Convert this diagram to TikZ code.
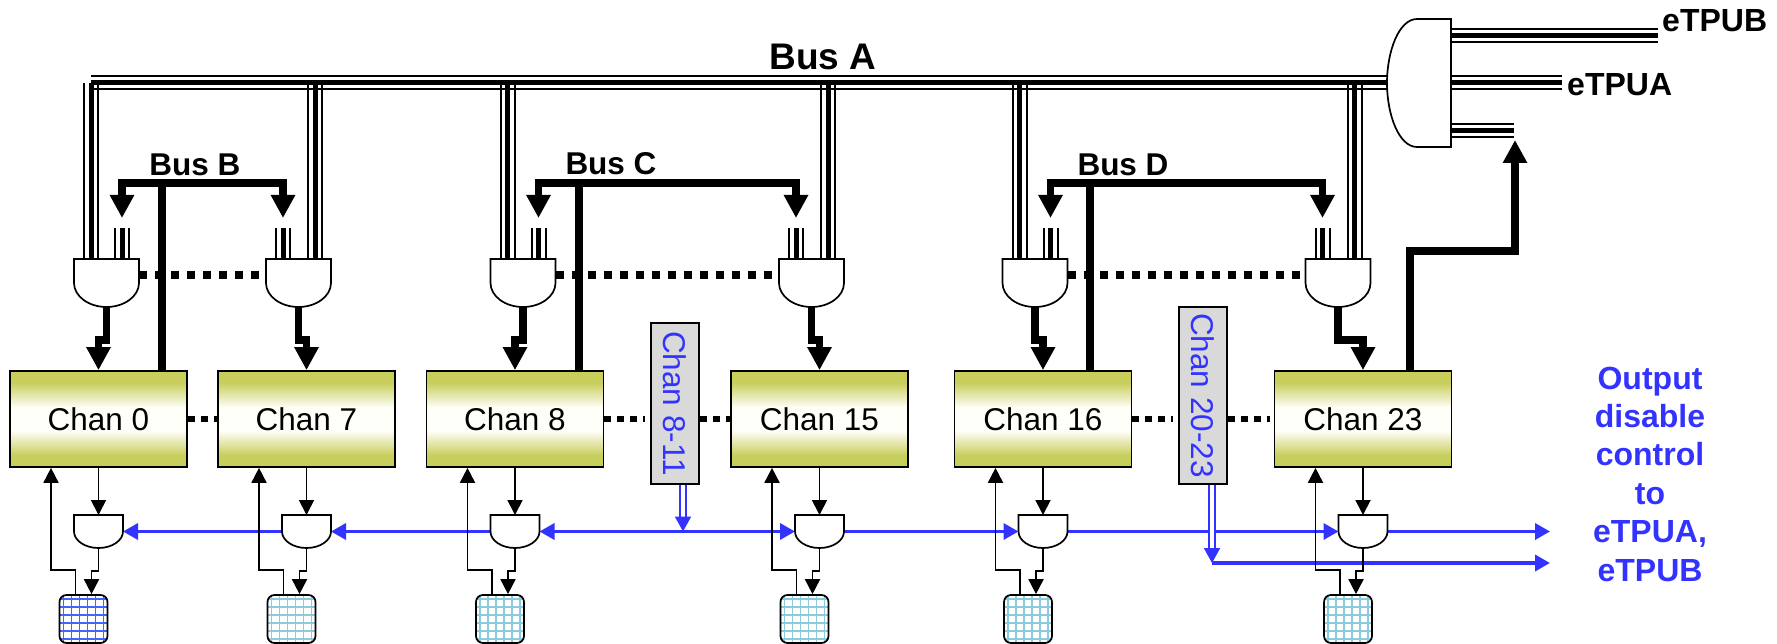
\documentclass[tikz,border=0pt]{standalone}
\usepackage{fontspec}
\setmainfont{Liberation Sans}
\usetikzlibrary{positioning,calc,arrows.meta}

\definecolor{ChanOlive}{HTML}{C8CE5C}
\definecolor{ChanPale}{HTML}{FFFFFA}
\definecolor{WireBlue}{HTML}{3333FF}
\definecolor{GridBlue}{HTML}{4068FF}
\definecolor{GridPale}{HTML}{8CCBDE}
\definecolor{SideGrey}{HTML}{D9D9D9}
\pgfdeclareverticalshading{chanshade}{100bp}{color(0bp)=(ChanOlive); color(31bp)=(ChanOlive); color(44bp)=(ChanPale); color(56bp)=(ChanPale); color(69bp)=(ChanOlive); color(100bp)=(ChanOlive)}

\newcommand{\wireH}[2]{\foreach \off/\wirew in {6.5/2,0/5,-6.5/2}{\draw[line width=\wirew pt] ([yshift=\off pt]#1) -- ([yshift=\off pt]#2);}}
\newcommand{\wireV}[2]{\foreach \off/\wirew in {-7/2,0/5,7/2}{\draw[line width=\wirew pt] ([xshift=\off pt]#1) -- ([xshift=\off pt]#2);}}
\newcommand{\gateoutline}[1]{\filldraw[fill=white,line width=1.7pt] (#1.north west) -- (#1.north east) -- (#1.east) .. controls ($(#1.east)!0.55!(#1.south east)$) and ($(#1.south)!0.55!(#1.south east)$) .. (#1.south) .. controls ($(#1.south)!0.55!(#1.south west)$) and ($(#1.west)!0.55!(#1.south west)$) .. (#1.west) -- cycle;}

\begin{document}
\begin{tikzpicture}[x=1pt,y=-1pt,on grid,
chanbox/.style ={draw,line width=1.7pt,shading=chanshade,minimum width=177pt,minimum height=96pt,inner sep=0pt,font=\fontsize{31.5}{36}\selectfont},
gateup/.style ={minimum width=65pt,minimum height=48pt,inner sep=0pt,outer sep=0pt},
gatelow/.style ={minimum width=49pt,minimum height=33pt,inner sep=0pt,outer sep=0pt},
memblock/.style ={draw,line width=1.7pt,rounded corners=7pt,minimum width=48pt,minimum height=48pt,inner sep=0pt,path picture={
\foreach \g in {-20,-12,-4,4,12,20}{
\draw[#1,line width=1.8pt] ([xshift=\g pt]path picture bounding box.north) -- ([xshift=\g pt]path picture bounding box.south);
\draw[#1,line width=1.8pt] ([yshift=\g pt]path picture bounding box.west) -- ([yshift=\g pt]path picture bounding box.east);}}},
sidebox/.style ={draw,line width=1.7pt,fill=SideGrey,rotate=-90,minimum height=48pt,inner sep=0pt,text=WireBlue,font=\fontsize{31.5}{36}\selectfont},
buslabel/.style ={inner sep=0pt,font=\bfseries\fontsize{31.5}{38}\selectfont},
portlabel/.style ={inner sep=0pt,anchor=west,font=\bfseries\fontsize{32}{38}\selectfont},
thinarrow/.style ={line width=1.8pt,-{Triangle[length=15pt,width=15pt]}},
bluearrow/.style ={WireBlue,line width=3.5pt,-{Triangle[length=15pt,width=16pt]}},
blueline/.style ={WireBlue,line width=3.5pt},
bluedouble/.style ={WireBlue,double=white,line width=2pt,double distance=4pt,-{Triangle[length=15pt,width=16pt]}},
busarrow/.style ={line width=7.5pt,-{Triangle[length=23pt,width=23pt]}},
busline/.style ={line width=7.5pt},
dotsup/.style ={line width=8pt,dash pattern=on 8pt off 8pt},
dotschan/.style ={line width=6pt,dash pattern=on 7pt off 6pt}]
\useasboundingbox (0,0) rectangle (1777,644);

\node[chanbox] (Chan0) at (98.5,419) {Chan 0};
\node[chanbox] (Chan7) [right=208pt of Chan0] {Chan 7};
\node[chanbox] (Chan8) [right=416.5pt of Chan0] {Chan 8};
\node[chanbox] (Chan15) [right=304.5pt of Chan8] {Chan 15};
\node[chanbox] (Chan16) [right=223.5pt of Chan15] {Chan 16};
\node[chanbox] (Chan23) [right=320pt of Chan16] {Chan 23};
\node[sidebox,minimum width=161pt] (Side8) at (675,403.5) {Chan 8-11};
\node[sidebox,minimum width=177pt] (Side20) at (1203,395.5) {Chan 20-23};
\node[inner sep=0pt,outer sep=0pt,minimum width=64pt,minimum height=128pt] (GateBig) at (1419,83) {};

\foreach \n/\dx in {0/8,7/-8,8/8,15/-8,16/-8,23/-25}{
\node[gateup] (GateUp\n) [above=136pt of Chan\n,xshift=\dx pt] {};
\node[gatelow] (GateLow\n) [below=112.5pt of Chan\n] {};
}
\foreach \n in {7,8,15,16,23}
\node[memblock=GridPale] (Mem\n) [below=87.5pt of GateLow\n,xshift=-15pt] {};
\node[memblock=GridBlue] (Mem0) [below=87.5pt of GateLow0,xshift=-15pt] {};

\node[font=\bfseries\fontsize{37}{44}\selectfont,inner sep=0pt] (LabelBusA) at (823,57) {Bus A};
\node[buslabel] (LabelBusB) at (195,165) {Bus B};
\node[buslabel] (LabelBusC) at (611,164) {Bus C};
\node[buslabel] (LabelBusD) at (1123,165) {Bus D};
\coordinate (EndB) at (1658,35.5);
\coordinate (EndA) at (1562,83);
\coordinate (EndC) at (1514,131);
\coordinate (StartA) at (91,83);
\node[portlabel] (LabelB) at (1662,21) {eTPUB};
\node[portlabel] (LabelA) at (1567,85) {eTPUA};
\node[inner sep=0pt,align=center,text=WireBlue,font=\bfseries\fontsize{32}{38.4}\selectfont] (LabelOut) at (1650,474) {Output\\disable\\control\\to\\eTPUA,\\eTPUB};

\wireH{StartA}{GateBig.west}
\wireH{GateBig.east}{EndA}
\wireH{GateBig.east |- EndB}{EndB}
\wireH{GateBig.east |- EndC}{EndC}

\foreach \n/\x in {0/7,8/15,16/23}
\draw[dotsup] ([yshift=8pt]GateUp\n.east) -- ([yshift=8pt]GateUp\x.west);

\foreach \n/\va/\vb in {0/-15.5/15.5,7/16.5/-15.5,8/-15.5/15.5,15/16.5/-15.5,16/-15.5/15.5,23/16.5/-15.5}{
\coordinate (Drop\n) at ([xshift=\va pt]GateUp\n.north);
\coordinate (Tap\n) at ([xshift=\vb pt]GateUp\n.north);
\coordinate (TapEnd\n) at ([yshift=31pt]Tap\n);
\coordinate (TapTip\n) at ([yshift=41pt]Tap\n);
\wireV{Drop\n}{Drop\n |- StartA}
\wireV{Tap\n}{TapEnd\n}
\draw[busarrow] (GateUp\n.south) -- ++(0,33) -| (Chan\n.north);
}

\foreach \bus/\ga/\gb/\stemx in {B/0/7/63.5,C/8/15/64,D/16/23/47}{
\coordinate (Stem\bus) at ([xshift=\stemx pt,yshift=187pt]Chan\ga.north);
\draw[busline] ([xshift=\stemx pt]Chan\ga.north) -- (Stem\bus);
\draw[busarrow] (Stem\bus) -| (TapTip\ga);
\draw[busarrow] (Stem\bus) -| (TapTip\gb);
}
\coordinate (TipOut) at (1515,140);
\draw[busarrow] ([xshift=47pt]Chan23.north) -- ++(0,-119) -| (TipOut);

\draw[dotschan] (Chan0.east) -- (Chan7.west);
\draw[dotschan,shorten >=5pt] (Chan8.east) -- (Chan8.east -| Side8.south);
\draw[dotschan] (Chan15.west -| Side8.north) -- (Chan15.west);
\draw[dotschan,shorten >=5pt] (Chan16.east) -- (Chan16.east -| Side20.south);
\draw[dotschan,shorten >=4pt] (Chan23.west -| Side20.north) -- (Chan23.west);

\coordinate (Join8) at ([xshift=8pt]Side8.east |- GateLow8.west);
\coordinate (OutA) at (1550,531.5);
\coordinate (OutB) at (1550,563);
\coordinate (Low20) at ([xshift=9pt]Side20.east |- OutB);
\draw[bluearrow] (GateLow7.west) -- (GateLow0.east);
\draw[blueline] (GateLow7.west) -- (GateLow7.east);
\draw[bluearrow] (GateLow8.west) -- (GateLow7.east);
\draw[bluearrow] (Join8) -- (GateLow8.east);
\draw[bluearrow] (Join8) -- (GateLow15.west);
\draw[bluearrow] (GateLow15.east) -- (GateLow16.west);
\draw[bluearrow] (GateLow16.east) -- (GateLow23.west);
\draw[bluearrow] (GateLow23.east) -- (OutA);
\draw[bluearrow] (Low20) -- (OutB);
\draw[bluedouble] ([xshift=8pt]Side8.east) -- (Join8);
\draw[bluedouble] ([xshift=9pt]Side20.east) -- (Low20);

\foreach \n in {0,7,8,15,16,23}{
\draw[thinarrow] (Chan\n.south) -- (GateLow\n.north);
\draw[thinarrow] (GateLow\n.south) -- ++(0,23) -- ++(-7,0) -- ([xshift=8pt]Mem\n.north);
\draw[thinarrow] ([xshift=-8pt]Mem\n.north) -- ++(0,-24) -| ([xshift=-47.5pt]Chan\n.south);
\gateoutline{GateLow\n}
\gateoutline{GateUp\n}
}
\filldraw[fill=white,line width=1.7pt] (GateBig.north east) -- (GateBig.south east) -- ([xshift=-34pt]GateBig.south east) .. controls ([xshift=-52pt]GateBig.south east) and ([yshift=-32pt]GateBig.west) .. (GateBig.west) .. controls ([yshift=32pt]GateBig.west) and ([xshift=-52pt]GateBig.north east) .. ([xshift=-34pt]GateBig.north east) -- cycle;
\end{tikzpicture}
\end{document}
